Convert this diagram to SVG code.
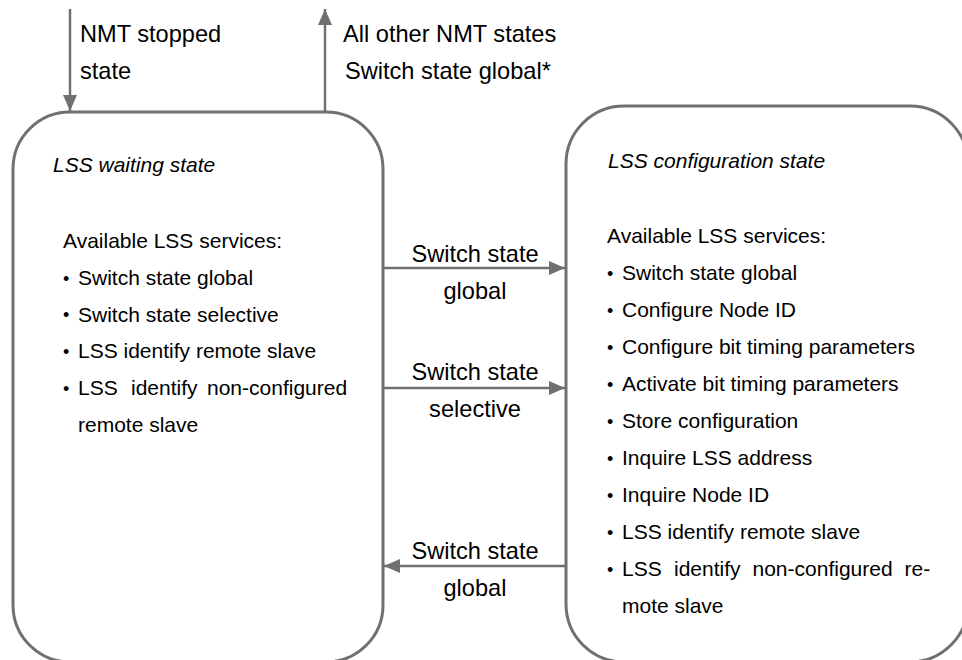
<svg xmlns="http://www.w3.org/2000/svg" width="962" height="660" viewBox="0 0 962 660">
<defs>
<style>
.box{fill:#ffffff;stroke:#707070;stroke-width:3}
.conn{stroke:#707070;stroke-width:2.5;fill:none}
.lbl{font-family:"Liberation Sans",Arial,sans-serif;font-size:23.6px;fill:#000}
.body{font-family:"Liberation Sans",Arial,sans-serif;font-size:21px;fill:#000}
.bul{font-size:18px}
.title{font-family:"Liberation Sans",Arial,sans-serif;font-size:21px;font-style:italic;fill:#000}
</style>
<marker id="ah" viewBox="0 0 16 14" refX="16" refY="7" markerWidth="16" markerHeight="14" markerUnits="userSpaceOnUse" orient="auto">
<path d="M0,0 L16,7 L0,14 Z" fill="#707070"/>
</marker>
</defs>
<rect width="962" height="660" fill="#ffffff"/>

<g id="waiting">
<rect class="box" x="13" y="112" width="370" height="550" rx="57" ry="57"/>
<text class="title" x="53" y="172">LSS waiting state</text>
<text class="body" x="63" y="248">Available LSS services:</text>
<text class="body"><tspan class="bul" x="63" y="284.5">•</tspan><tspan x="78" y="285">Switch state global</tspan></text>
<text class="body"><tspan class="bul" x="63" y="321">•</tspan><tspan x="78" y="321.5">Switch state selective</tspan></text>
<text class="body"><tspan class="bul" x="63" y="357.5">•</tspan><tspan x="78" y="358">LSS identify remote slave</tspan></text>
<text class="body"><tspan class="bul" x="63" y="394.5">•</tspan><tspan x="78" y="395">LSS</tspan><tspan x="131" y="395">identify</tspan><tspan x="207" y="395">non-configured</tspan></text>
<text class="body" x="78" y="431.5">remote slave</text>
</g>

<g id="configuration">
<rect class="box" x="566" y="106" width="402" height="556" rx="58" ry="58"/>
<text class="title" x="608" y="168">LSS configuration state</text>
<text class="body" x="607" y="243">Available LSS services:</text>
<text class="body"><tspan class="bul" x="607" y="279.5">•</tspan><tspan x="622" y="280">Switch state global</tspan></text>
<text class="body"><tspan class="bul" x="607" y="316.5">•</tspan><tspan x="622" y="317">Configure Node ID</tspan></text>
<text class="body"><tspan class="bul" x="607" y="353.5">•</tspan><tspan x="622" y="354">Configure bit timing parameters</tspan></text>
<text class="body"><tspan class="bul" x="607" y="390.5">•</tspan><tspan x="622" y="391">Activate bit timing parameters</tspan></text>
<text class="body"><tspan class="bul" x="607" y="427.5">•</tspan><tspan x="622" y="428">Store configuration</tspan></text>
<text class="body"><tspan class="bul" x="607" y="464.5">•</tspan><tspan x="622" y="465">Inquire LSS address</tspan></text>
<text class="body"><tspan class="bul" x="607" y="501.5">•</tspan><tspan x="622" y="502">Inquire Node ID</tspan></text>
<text class="body"><tspan class="bul" x="607" y="538.5">•</tspan><tspan x="622" y="539">LSS identify remote slave</tspan></text>
<text class="body"><tspan class="bul" x="607" y="575.5">•</tspan><tspan x="622" y="576">LSS</tspan><tspan x="674" y="576">identify</tspan><tspan x="752.5" y="576">non-configured</tspan><tspan x="904.5" y="576">re-</tspan></text>
<text class="body" x="622" y="613">mote slave</text>
</g>

<g id="connectors">
<line class="conn" x1="70" y1="9" x2="70" y2="111" marker-end="url(#ah)"/>
<line class="conn" x1="325" y1="112" x2="325" y2="9" marker-end="url(#ah)"/>
<line class="conn" x1="383" y1="268" x2="565" y2="268" marker-end="url(#ah)"/>
<line class="conn" x1="383" y1="388" x2="565" y2="388" marker-end="url(#ah)"/>
<line class="conn" x1="566" y1="566" x2="384" y2="566" marker-end="url(#ah)"/>
</g>

<g id="labels">
<text class="lbl" x="80" y="42">NMT stopped</text>
<text class="lbl" x="80" y="79">state</text>
<text class="lbl" x="343" y="42">All other NMT states</text>
<text class="lbl" x="345" y="79">Switch state global*</text>
<text class="lbl" x="475" y="262" text-anchor="middle">Switch state</text>
<text class="lbl" x="475" y="299" text-anchor="middle">global</text>
<text class="lbl" x="475" y="380" text-anchor="middle">Switch state</text>
<text class="lbl" x="475" y="417" text-anchor="middle">selective</text>
<text class="lbl" x="475" y="559" text-anchor="middle">Switch state</text>
<text class="lbl" x="475" y="596" text-anchor="middle">global</text>
</g>
</svg>
